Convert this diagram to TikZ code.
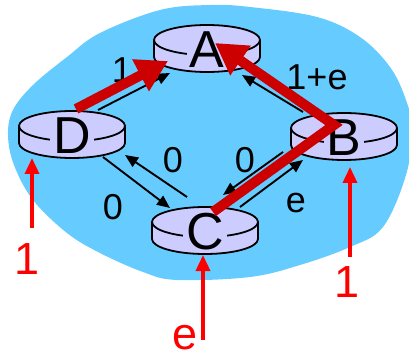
\documentclass[tikz,border=0pt]{standalone}
\usepackage{fontspec}
\setmainfont{Liberation Sans}
\usepackage{tikz}
\usetikzlibrary{arrows.meta,calc}

\definecolor{cloudblue}{HTML}{66CCFF}
\definecolor{diskfill}{HTML}{CCCCFF}
\definecolor{pathred}{HTML}{CC0000}
\definecolor{feedred}{HTML}{FF0000}

% one router: #1 name, #2 centre of the top face, #3 letter
\newcommand{\router}[3]{%
  \begin{scope}[shift={(#2)}]
    \filldraw[disk] (-53,0) -- (-53,-17) arc[start angle=180,end angle=360,x radius=53pt,y radius=15pt]
      -- (53,0) arc[start angle=0,end angle=180,x radius=53pt,y radius=15pt] -- cycle;
    \draw[disk] (-53,0) arc[start angle=180,end angle=360,x radius=53pt,y radius=15pt];
    \node[letter] (#1) at (0,-9.5) {#3};
  \end{scope}}

\begin{document}
\begin{tikzpicture}[x=1pt,y=1pt,
    disk/.style={line width=1.8pt,fill=diskfill,line join=round},
    letter/.style={fill=diskfill,inner xsep=3pt,inner ysep=1pt,font=\fontsize{52}{52}\selectfont},
    link/.style={line width=1.9pt,-{Triangle[length=13pt,width=11pt]}},
    flow/.style={line width=10pt,draw=pathred,line join=miter,-{Triangle[length=31pt,width=34pt]}},
    feed/.style={line width=3.5pt,draw=feedred,-{Triangle[length=16pt,width=14pt]}},
    cost/.style={font=\fontsize{36}{36}\selectfont},
    load/.style={text=feedred,inner sep=1pt,font=\fontsize{45}{45}\selectfont}]
    \useasboundingbox (0,0) rectangle (409,356);

    % the network
    \begin{scope}
      \clip (0,0) rectangle (409,356);
      \fill[cloudblue] plot[smooth cycle,tension=0.6] coordinates {
        (8,221) (13,246) (33,271) (67,299) (100,323) (160,346) (210,351) (250,349)
        (317,339) (360,319) (390,289) (406,256) (412,226) (406,181) (383,129) (350,109)
        (300,91) (250,79) (177,76) (143,84) (100,103) (67,123) (33,156) (14,191)};
    \end{scope}

    \router{A}{207,316}{A}
    \router{D}{72,230}{D}
    \router{B}{344,228}{B}
    \router{C}{205,134}{C}

    % links
    \draw[link] ([shift={(26,25.5)}]D.center) -- ([shift={(-37,-23.5)}]A.center);
    \draw[link] ([shift={(-41,25.5)}]B.center) -- ([shift={(35,-25.5)}]A.center);
    \draw[link] ([shift={(31,-21.5)}]D.center) -- ([shift={(-35,23.5)}]C.center);
    \draw[link] ([shift={(-18,34.5)}]C.center) -- ([shift={(53,-19.5)}]D.center);
    \draw[link] ([shift={(-61,-14.5)}]B.center) -- ([shift={(18,36.5)}]C.center);
    \draw[link] ([shift={(35,24.5)}]C.center) -- ([shift={(-41,-22.5)}]B.center);

    \node[cost] (cDA) at (122,286) {1};
    \node[cost] (cBA) at (317,279) {1+e};
    \node[cost] (cDC) at (113,149) {0};
    \node[cost] (cCD) at (173,196) {0};
    \node[cost] (cBC) at (245,196) {0};
    \node[cost] (cCB) at (296,153) {e};

    % routes
    \draw[flow] ([shift={(4,26.5)}]D.center) -- ([shift={(-39,-11.5)}]A.center);
    \draw[flow] ([shift={(8,19.5)}]C.center) -- ([shift={(-10,12.5)}]B.center)
      -- ([shift={(8,6.5)}]A.center);

    % traffic in
    \coordinate (srcD) at (32,128);
    \coordinate (srcC) at (203,16);
    \coordinate (srcB) at (350,99);
    \draw[feed] (srcD) -- ([shift={(-40,-22.5)}]D.center);
    \draw[feed] (srcC) -- ([shift={(-2,-23.5)}]C.center);
    \draw[feed] (srcB) -- ([shift={(6,-29.5)}]B.center);
    \node[load] (inD) at (27,97) {1};
    \node[load] (inC) at (185,18) {e};
    \node[load] (inB) at (347,74) {1};
\end{tikzpicture}
\end{document}
